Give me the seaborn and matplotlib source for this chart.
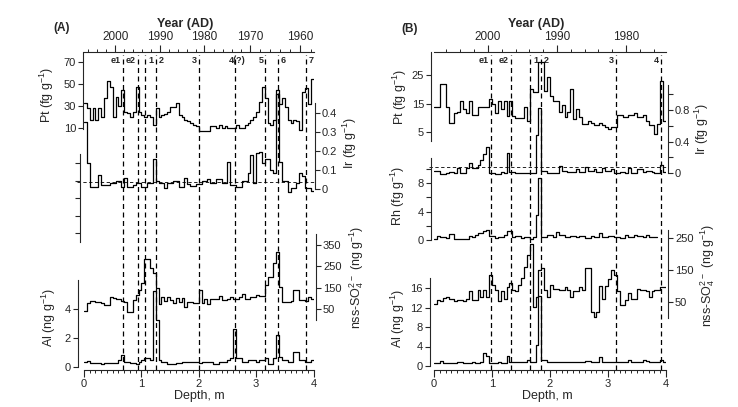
import numpy as np
import matplotlib
matplotlib.use("Agg")
import matplotlib.pyplot as plt
import seaborn as sns
from matplotlib.ticker import MultipleLocator, FixedLocator, FormatStrFormatter

# ---------------- data (0.05 m samples) ----------------
STEP = 0.05

pt_a = [32.5, 28, 17.3, 28, 17, 28, 20, 37, 52.7, 47.5,
        20, 38.5, 30, 44.5, 24.8, 23.5, 20.4, 24.8, 47.5, 24.8,
        21.6, 20, 21.6, 20, 12.7, 28, 20, 21.6, 23, 24.8,
        29.4, 29.4, 33, 21.6, 20, 17.3, 16, 14.5, 13, 11.7,
        7.3, 7.3, 7.3, 7.3, 11.5, 11.5, 10, 13, 10, 11.5,
        10, 10, 10, 13, 10, 10, 13, 14.5, 17.3, 20,
        24.8, 33.7, 47.5, 37, 14.5, 13, 17, 44.5, 32, 37,
        29, 17, 14.5, 17, 16, 8.5, 43, 46, 32, 55]
ir_a = [0.35, 0.135, 0.009, 0.009, 0.009, 0.074, 0.021, 0.021, 0.021, 0.03,
        0.03, 0.04, 0.04, 0.009, 0.057, 0.009, 0.009, 0.02, 0.033, 0.033,
        0.01, 0.01, 0.033, 0.033, 0.16, 0.044, 0.03, 0.03, 0.005, 0.033,
        0.033, 0.044, 0.044, 0.01, 0.01, 0.06, 0.025, 0.015, 0.015, 0.025,
        0.025, 0.04, 0.04, 0.05, 0.033, 0.033, 0.05, 0.05, 0.03, 0.03,
        0.144, 0.02, 0.02, 0.01, 0.01, 0.04, 0.04, 0.083, 0.18, 0.03,
        0.19, 0.196, 0.135, 0.16, 0.16, 0.1, 0.083, 0.5, 0.144, 0.044,
        0.044, -0.014, 0.005, 0.005, 0.03, 0.083, 0.066, 0.005, 0.005, -0.01]
so4_a = [40, 77, 88, 88, 82, 82, 77, 70, 70, 108,
         100, 97, 97, 88, 82, 35, 35, 93, 116, 140,
         171, 284, 284, 240, 218, 147, 74, 104, 88, 104,
         90, 77, 100, 85, 100, 61, 82, 82, 77, 77,
         140, 77, 97, 74, 97, 97, 97, 112, 93, 93,
         97, 104, 97, 97, 108, 119, 97, 97, 108, 108,
         116, 112, 112, 163, 202, 202, 264, 316, 155, 82,
         82, 82, 88, 140, 140, 93, 93, 88, 104, 97]
al_a = [0.32, 0.41, 0.25, 0.25, 0.25, 0.25, 0.18, 0.25, 0.25, 0.25,
        0.25, 0.25, 0.48, 0.83, 0.37, 0.37, 0.25, 0.25, 0.18, 0.32,
        0.48, 0.64, 0.64, 0.48, 5.24, 3.24, 0.48, 0.32, 0.32, 0.18,
        0.18, 0.18, 0.25, 0.25, 0.32, 0.32, 0.37, 0.37, 0.37, 0.37,
        0.25, 0.32, 0.32, 0.32, 0.32, 0.18, 0.18, 0.32, 0.32, 0.32,
        0.48, 0.64, 2.62, 0.6, 0.6, 0.37, 0.37, 0.48, 0.48, 0.48,
        0.32, 0.48, 0.48, 0.6, 0.18, 0.18, 0.6, 2.2, 0.71, 0.48,
        0.48, 0.37, 0.37, 1.01, 1.01, 0.48, 0.48, 0.37, 0.37, 0.48]

pt_b = [13.7, 13.7, 21.9, 21.9, 13.7, 8.2, 8.2, 11.5, 12.1, 16,
        13, 11.5, 16, 10.8, 10.8, 13.7, 13.7, 13.7, 13.7, 16.6,
        14.9, 11.5, 16, 13, 16, 10.6, 16, 10.6, 9.9, 9.9,
        9.9, 13.7, 9, 20.1, 19, 19, 29.5, 29.5, 19.5, 24.2,
        17.7, 16, 16, 12.1, 14.4, 10.3, 12.1, 20.1, 9.6, 13,
        10.3, 7.9, 7.9, 8.8, 8.2, 7.3, 7.3, 8.2, 7.5, 6.7,
        5.9, 6.7, 6.7, 10.8, 10.8, 10.3, 10.3, 10.8, 10.8, 11.5,
        10.3, 10.3, 10.8, 9, 7.3, 7.3, 4.4, 7.9, 23, 9]
ir_b = [0.03, 0.025, -0.013, -0.013, 0.004, 0.017, 0.017, 0, 0.064, 0.004,
        0.004, 0.064, 0.13, 0.064, 0.064, 0.1, 0.165, 0.24, 0.33, 0,
        0, -0.01, -0.01, 0.017, 0, 0.25, 0.017, 0.017, 0, 0,
        0.004, 0, 0, 0, 0, 0.48, 0.82, 0.03, 0.03, 0,
        0, 0, 0, 0.09, 0.03, 0.03, 0.017, 0.017, 0.017, 0.047,
        0.017, 0.017, 0.08, 0.03, 0.03, 0.047, 0.017, 0.017, 0.064, 0.03,
        0.03, 0.047, 0.004, 0.004, 0.017, 0.017, 0, 0.064, 0.004, 0.004,
        0.047, 0.047, 0.017, 0.03, 0.03, 0.017, 0, 0, 0.1, 0.017]
rh_b = [0.09, 0.56, 0.37, 0.37, 0.23, 0.84, 0.84, 0.09, 0.09, 0.09,
        0.09, 0.09, 0.56, 0.37, 0.7, 0.94, 0.94, 1.3, 1.4, 0.56,
        0.56, 0.23, 0.47, 0.47, 0.7, 1.3, 1.3, 0.37, 0.56, 0.56,
        0.23, 0.37, 0.37, 0.2, 0.37, 3.5, 8.65, 0.37, 0.37, 0.7,
        0.7, 0.37, 1.17, 0.7, 0.7, 0.37, 0.37, 0.56, 0.56, 0.37,
        0.56, 0.56, 0.23, 0.23, 0.56, 0.37, 0.37, 1.03, 0.37, 0.37,
        0.56, 0.56, 0.37, 0.37, 0.23, 0.23, 0.7, 0.37, 0.37, 0.7,
        0.56, 0.56, 0.37, 0.7, 0.37, 0.37, 0.37]
so4_b = [43, 56, 52, 63, 65, 60, 60, 52, 56, 56,
         52, 60, 83, 56, 56, 89, 65, 89, 65, 135,
         102, 89, 53, 83, 60, 96, 110, 89, 83, 102,
         125, 160, 196, 232, 35, 65, 150, 156, 89, 65,
         102, 91, 91, 89, 89, 96, 89, 65, 85, 85,
         96, 89, 157, 157, 18, 4, 20, 100, 60, 100,
         123, 150, 135, 83, 41, 41, 56, 78, 60, 60,
         91, 89, 89, 83, 65, 83, 89, 89, 96, 96]
al_b = [0.55, 0.55, 1.03, 0.55, 0.55, 0.55, 0.55, 0.55, 0.75, 0.75,
        0.55, 0.55, 0.55, 0.75, 0.55, 0.55, 0.8, 2.6, 2.1, 0.55,
        0.55, 0.55, 0.75, 0.55, 0.55, 2.1, 0.75, 0.75, 0.75, 0.75,
        0.75, 0.75, 1.2, 0.75, 0.75, 4.3, 14.3, 1.2, 1.2, 0.75,
        0.75, 0.75, 0.75, 0.75, 0.75, 0.75, 0.75, 0.75, 0.75, 0.75,
        0.75, 0.75, 1.0, 1.0, 0.75, 0.75, 0.75, 1.9, 0.75, 0.75,
        0.75, 0.75, 0.75, 0.75, 0.75, 0.75, 0.75, 1.2, 0.75, 0.75,
        0.75, 0.8, 1.2, 1.0, 0.75, 0.75, 0.75, 0.75, 1.2, 0.75]

# age models (depth, m -> year AD)
age_depth_a = [0, 0.548, 1.32, 2.10, 2.89, 3.77, 4.0]
age_year_a = [2007, 2000, 1990, 1980, 1970, 1960, 1957.5]
age_depth_b = [0, 0.93, 2.12, 3.31, 4.0]
age_year_b = [2007.8, 2000, 1990, 1980, 1974.2]

events_a = [0.675, 0.935, 1.07, 1.26, 2.01, 2.63, 3.16, 3.38, 3.87]
event_names_a = ["e1", "e2", "1", "2", "3", "4(?)", "5", "6", "7"]
events_b = [0.98, 1.33, 1.66, 1.85, 3.14, 3.91]
event_names_b = ["e1", "e2", "1", "2", "3", "4"]

ir_ref_a = 0.037
ir_ref_b = 0.072

# ---------------- style ----------------
sns.set_style("ticks")
plt.rcParams["font.family"] = ["Liberation Sans", "DejaVu Sans"]
plt.rcParams["mathtext.fontset"] = "custom"
plt.rcParams["mathtext.rm"] = "Liberation Sans"
plt.rcParams["mathtext.default"] = "regular"
plt.rcParams["axes.linewidth"] = 0.8

W, H = 738, 407
Y_TOP, Y_BOT = 52, 370


def fx(px):
    return px / W


def fy(py):
    return 1 - py / H


fig = plt.figure(figsize=(W / 100, H / 100), dpi=100)


def make_base(x0, x1, age_depth, age_year):
    ax = fig.add_axes([fx(x0), fy(Y_BOT), fx(x1) - fx(x0), (Y_BOT - Y_TOP) / H])
    ax.patch.set_visible(False)
    ax.set_xlim(0, 4)
    ax.set_ylim(0, 1)
    for s in ["left", "right", "top"]:
        ax.spines[s].set_visible(False)
    ax.set_yticks([])
    ax.xaxis.set_major_locator(MultipleLocator(1))
    ax.xaxis.set_minor_locator(MultipleLocator(0.1))
    ax.tick_params(axis="x", which="major", length=5, width=0.8, labelsize=8, pad=1.5)
    ax.tick_params(axis="x", which="minor", length=2.5, width=0.7)

    fwd = lambda d: np.interp(d, age_depth, age_year)
    inv = lambda y: np.interp(-np.asarray(y), -np.asarray(age_year), age_depth)
    sec = ax.secondary_xaxis("top", functions=(fwd, inv))
    ylo, yhi = min(age_year), max(age_year)
    years = np.arange(1950, 2012, 2)
    years = years[(years >= ylo) & (years <= yhi)]
    sec.xaxis.set_major_locator(FixedLocator(years[years % 10 == 0]))
    sec.xaxis.set_minor_locator(FixedLocator(years[years % 10 != 0]))
    sec.xaxis.set_major_formatter(FormatStrFormatter("%d"))
    sec.tick_params(which="major", length=5, width=0.8, labelsize=8.5, pad=1.5)
    sec.tick_params(which="minor", length=2.5, width=0.7)
    sec.spines["top"].set_linewidth(0.8)
    return ax


def stacked(base, side, cal, bounds, ticks, labels, outward_px):
    ax = fig.add_axes(base.get_position())
    ax.patch.set_visible(False)
    ax.set_xlim(0, 4)
    (v1, p1), (v2, p2) = cal
    slope = (v2 - v1) / (p2 - p1)
    ax.set_ylim(v1 + (Y_BOT - p1) * slope, v1 + (Y_TOP - p1) * slope)
    for s in ax.spines.values():
        s.set_visible(False)
    sp = ax.spines[side]
    sp.set_visible(True)
    sp.set_bounds(*bounds)
    sp.set_position(("outward", outward_px * 0.72))
    ax.yaxis.set_ticks_position(side)
    ax.set_yticks(ticks)
    ax.set_yticklabels(labels)
    ax.tick_params(axis="y", direction="out", length=3.5, width=0.8, labelsize=8, pad=1.5)
    ax.xaxis.set_visible(False)
    return ax


def trace(ax, vals):
    v = np.asarray(vals, float)
    x = np.arange(len(v) + 1) * STEP
    y = np.append(v, v[-1])
    sns.lineplot(x=x, y=y, ax=ax, color="black", linewidth=0.9,
                 drawstyle="steps-post", estimator=None, sort=False)
    ax.set_xlabel("")
    ax.set_ylabel("")


def events(ax, depths, names, sides):
    for d, n, side in zip(depths, names, sides):
        ax.axvline(d, ymin=0, ymax=0.99, color="black", lw=0.9, ls=(0, (4, 2.8)))
        dx, ha = {"l": (-1.5, "right"), "r": (2, "left"), "c": (2, "center")}[side]
        ax.annotate(n, xy=(d, 0.972), xycoords=("data", "axes fraction"),
                    xytext=(dx, 0), textcoords="offset points", ha=ha, va="center",
                    fontsize=6.5, fontweight="bold")


def label(px, py, text, rot=90, **kw):
    fig.text(fx(px), fy(py), text, rotation=rot, ha="center", va="center", **kw)


# ---------------- panel A ----------------
base_a = make_base(84, 313.5, age_depth_a, age_year_a)
events(base_a, events_a, event_names_a, ["l", "l", "r", "r", "l", "c", "l", "r", "r"])

ax = stacked(base_a, "left", ((10, 128), (70, 62)), (9, 79), [10, 30, 50, 70],
             ["10", "30", "50", "70"], 1)
trace(ax, pt_a)
ax = stacked(base_a, "right", ((0, 189), (0.4, 113)), (0, 0.45), [0, 0.1, 0.2, 0.3, 0.4],
             ["0", "0.1", "0.2", "0.3", "0.4"], 1.5)
trace(ax, ir_a)
ax.axhline(ir_ref_a, xmin=-0.03, xmax=1.0, color="black", lw=0.6, ls=(0, (4, 3)), clip_on=False)
stacked(base_a, "left", ((0, 233), (4, 163)), (-0.5, 4.5), [0, 1, 2, 3, 4], [], 4)
ax = stacked(base_a, "right", ((50, 309), (350, 245)), (0, 400), [50, 150, 250, 350],
             ["50", "150", "250", "350"], 2.5)
trace(ax, so4_a)
ax = stacked(base_a, "left", ((0, 367), (4, 309)), (0, 6), [0, 2, 4], ["0", "2", "4"], 6)
trace(ax, al_a)

label(47, 95, r"Pt (fg g$^{-1}$)", fontsize=9)
label(350, 143, r"Ir (fg g$^{-1}$)", fontsize=9)
label(357, 277, r"nss-SO$_4^{2-}$ (ng g$^{-1}$)", fontsize=9)
label(49, 318, r"Al (ng g$^{-1}$)", fontsize=9)
label(199, 396, "Depth, m", rot=0, fontsize=9)
label(185, 24, "Year (AD)", rot=0, fontsize=9, fontweight="bold")
label(62, 28, "(A)", rot=0, fontsize=8.5, fontweight="bold")

# ---------------- panel B ----------------
base_b = make_base(434, 666, age_depth_b, age_year_b)
events(base_b, events_b, event_names_b, ["l", "l", "r", "r", "l", "l"])

ax = stacked(base_b, "left", ((5, 132), (25, 75)), (2, 32.9), [5, 15, 25],
             ["5", "15", "25"], 3)
trace(ax, pt_b)
ax = stacked(base_b, "right", ((0, 173), (0.8, 110)), (0, 1.12), [0, 0.2, 0.4, 0.6, 0.8, 1.0],
             ["0", "", "0.4", "", "0.8", ""], 2)
trace(ax, ir_b)
ax.axhline(ir_ref_b, xmin=-0.02, xmax=1.01, color="black", lw=0.6, ls=(0, (4, 3)), clip_on=False)
ax = stacked(base_b, "left", ((0, 240), (8, 183)), (0, 11.5), [0, 2, 4, 6, 8, 10],
             ["0", "", "4", "", "8", ""], 3)
trace(ax, rh_b)
ax = stacked(base_b, "right", ((50, 302), (250, 238)), (0, 275), [50, 150, 250],
             ["50", "150", "250"], 2)
trace(ax, so4_b)
ax = stacked(base_b, "left", ((0, 366), (16, 288)), (0, 18), [0, 4, 8, 12, 16],
             ["0", "4", "8", "12", "16"], 4)
trace(ax, al_b)

label(400, 97, r"Pt (fg g$^{-1}$)", fontsize=9)
label(702, 129, r"Ir (fg g$^{-1}$)", fontsize=9)
label(398, 196, r"Rh (fg g$^{-1}$)", fontsize=9)
label(398, 319, r"Al (ng g$^{-1}$)", fontsize=9)
label(708, 275, r"nss-SO$_4^{2-}$ (ng g$^{-1}$)", fontsize=9)
label(547, 396, "Depth, m", rot=0, fontsize=9)
label(536, 24, "Year (AD)", rot=0, fontsize=9, fontweight="bold")
label(410, 29, "(B)", rot=0, fontsize=8.5, fontweight="bold")

fig.savefig("out.png", dpi=100)
